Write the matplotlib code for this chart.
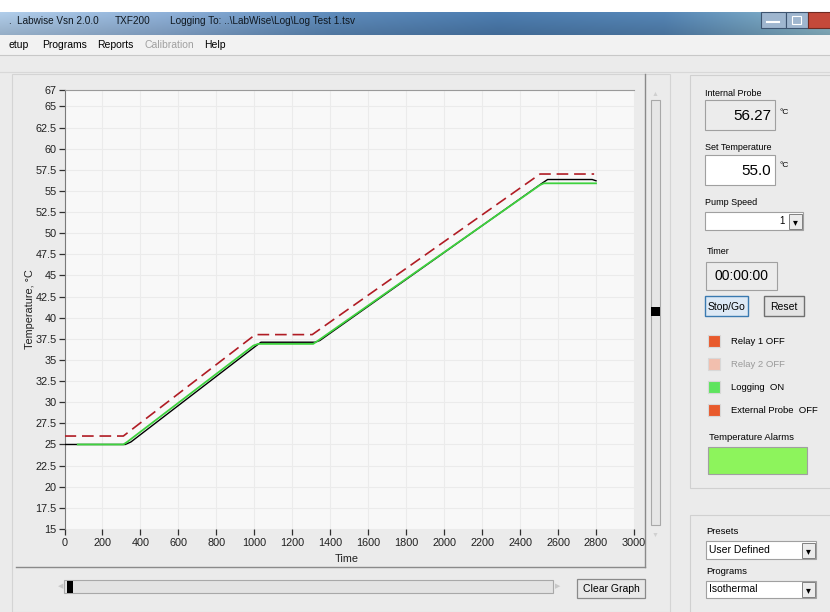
import matplotlib
matplotlib.use("Agg")
import matplotlib.pyplot as plt
from matplotlib.patches import Rectangle
import numpy as np

# ---------------- data ----------------
red_t = [0, 310, 1005, 1305, 2505, 2790]
red_v = [26, 26, 38, 38, 57, 57]

green_t = [70, 310, 330, 995, 1020, 1310, 1330, 2505, 2525, 2800]
green_v = [25, 25, 25.3, 36.7, 36.9, 36.9, 37.2, 55.7, 55.9, 55.9]

black_t = [0, 320, 350, 1005, 1035, 1320, 1345, 2515, 2545, 2780, 2800]
black_v = [25, 25, 25.3, 36.6, 37.1, 37.1, 37.3, 55.9, 56.35, 56.35, 56.2]

x_ticks = list(range(0, 3001, 200))
y_ticks = [15, 17.5, 20, 22.5, 25, 27.5, 30, 32.5, 35, 37.5, 40, 42.5, 45,
           47.5, 50, 52.5, 55, 57.5, 60, 62.5, 65, 67]
y_tick_labels = ["15", "17.5", "20", "22.5", "25", "27.5", "30", "32.5", "35",
                 "37.5", "40", "42.5", "45", "47.5", "50", "52.5", "55", "57.5",
                 "60", "62.5", "65", "67"]

title_parts = [("Labwise Vsn 2.0.0", 17), ("TXF200", 115),
               ("Logging To: ..\\LabWise\\Log\\Log Test 1.tsv", 170)]
menu_items = [("etup", 8, "#000000"), ("Programs", 42, "#000000"),
              ("Reports", 97, "#000000"), ("Calibration", 144, "#a0a0a0"),
              ("Help", 204, "#000000")]

# ---------------- figure ----------------
W, H = 830, 612
plt.rcParams['font.family'] = ['Liberation Sans Narrow', 'Liberation Sans', 'DejaVu Sans']
fig = plt.figure(figsize=(W / 100, H / 100), dpi=100)
fig.patch.set_facecolor("#ebebeb")


def R(x0, y0, x1, y1, fc="none", ec="none", lw=0.8, z=1):
    r = Rectangle((x0 / W, 1 - y1 / H), (x1 - x0) / W, (y1 - y0) / H,
                  transform=fig.transFigure, facecolor=fc, edgecolor=ec,
                  linewidth=lw, zorder=z)
    fig.add_artist(r)
    return r


def T(x, y, s, size=7, color="#000000", ha="left", va="center", zorder=6, **kw):
    return fig.text(x / W, 1 - y / H, s, fontsize=size, color=color,
                    ha=ha, va=va, zorder=zorder, **kw)


def L(xs, ys, color="#808080", lw=0.8, z=2):
    fig.add_artist(plt.Line2D([x / W for x in xs], [1 - y / H for y in ys],
                              transform=fig.transFigure, color=color, lw=lw,
                              zorder=z))


# top white strip
R(0, 0, W, 12, fc="#ffffff")
# title bar gradient
tb = fig.add_axes([0, 1 - 35 / H, 1, 23 / H])
tb.set_zorder(3)
grad_cols = np.array([[0.62, 0.72, 0.82], [0.50, 0.62, 0.76], [0.33, 0.49, 0.66],
                      [0.27, 0.44, 0.62], [0.30, 0.47, 0.64], [0.50, 0.66, 0.72]])
xs = np.linspace(0, 1, len(grad_cols))
xx = np.linspace(0, 1, 400)
row = np.stack([np.interp(xx, xs, grad_cols[:, k]) for k in range(3)], axis=-1)
vert = np.linspace(1.12, 0.95, 23)[:, None, None]
img = np.clip(row[None, :, :] * vert, 0, 1)
tb.imshow(img, aspect="auto", extent=[0, 1, 0, 1])
tb.set_axis_off()
for s, x in title_parts:
    T(x, 21, s, size=7.2, color="#101820")
T(8, 21, ".", size=7.2, color="#101820")
# window buttons
R(761, 12, 786, 28, fc="#9fb6cf", ec="#3d5470", lw=0.8, z=4)
R(786, 12, 808, 28, fc="#9fb6cf", ec="#3d5470", lw=0.8, z=4)
R(808, 12, 831, 28, fc="#c4493a", ec="#6e2a22", lw=0.8, z=4)
L([767, 779], [22, 22], color="#ffffff", lw=1.5, z=5)
R(792, 16, 801, 24, ec="#ffffff", lw=0.8, z=5)

# menu bar
R(0, 35, W, 55, fc="#f2f2f2")
L([0, W], [55, 55], color="#c8c8c8")
for s, x, c in menu_items:
    T(x, 45, s, size=7.5, color=c)
L([0, W], [72, 72], color="#d8d8d8")

# chart panel
R(12, 74, 670, 612, fc="#ebebeb", ec="#d4d4d4", lw=0.8)
L([645, 645], [74, 567], color="#8a8a8a", lw=1.0)
L([16, 645], [567, 567], color="#8a8a8a", lw=1.0)

# ---------------- chart axes ----------------
ax_l, ax_r, ax_t, ax_b = 64.5, 634, 89.5, 529
aw, ah = ax_r - ax_l, ax_b - ax_t
ax = fig.add_axes([ax_l / W, 1 - ax_b / H, aw / W, ah / H])
ax.set_zorder(10)
ax.set_facecolor("#f8f8f8")
ax.plot(black_t, black_v, color="#000000", lw=1.0, zorder=3)
ax.plot(green_t, green_v, color="#3ed23e", lw=1.3, zorder=4)
ax.plot(red_t, red_v, color="#b01c24", lw=1.2, dashes=(7, 3.5), zorder=5)
ax.set_xlim(0, 3000)
ax.set_ylim(15, 67)
ax.set_xticks(x_ticks)
ax.set_xticklabels([str(v) for v in x_ticks])
ax.set_yticks(y_ticks)
ax.set_yticklabels(y_tick_labels)
ax.grid(True, color="#ebebeb", lw=0.8)
ax.set_axisbelow(True)
for side in ("right", "bottom"):
    ax.spines[side].set_visible(False)
ax.spines["left"].set_color("#7a7a7a")
ax.spines["top"].set_color("#9a9a9a")
ax.tick_params(axis="both", colors="#303030", labelsize=7.8, length=4,
               width=0.9, pad=1.5, labelcolor="#202020")
ax.tick_params(axis="x", pad=2.5)
ax.set_xlabel("Time", fontsize=7.8, color="#202020")
ax.set_ylabel("Temperature, °C", fontsize=7.8, color="#202020")
ax.xaxis.set_label_coords((347 - ax_l) / aw, (ax_b - 559) / ah)
ax.yaxis.set_label_coords((30 - ax_l) / aw, 0.5)
ax.xaxis.label.set_va("center")
ax.yaxis.label.set_va("center")

# vertical scrollbar
R(651, 100, 660, 525, fc="#e6e6e6", ec="#a8a8a8", lw=0.8, z=2)
R(651, 307, 660, 316, fc="#000000", z=3)
T(655.5, 95, "▲", size=5, color="#d0d0d0", ha="center")
T(655.5, 535, "▼", size=5, color="#d0d0d0", ha="center")

# horizontal slider
R(64, 580, 553, 593, fc="#e3e3e3", ec="#a8a8a8", lw=0.8, z=2)
R(67, 581, 73, 593, fc="#000000", z=3)
T(61, 587, "◀", size=5, color="#c8c8c8", ha="center")
T(558, 587, "▶", size=5, color="#c8c8c8", ha="center")
R(577, 579, 645, 598, fc="#e8e8e8", ec="#8a8a8a", lw=0.9, z=2)
T(611, 588.5, "Clear Graph", size=7.5, ha="center")

# ---------------- right panel ----------------
R(690, 75, 832, 488, fc="#ebebeb", ec="#d0d0d0", lw=0.8)
T(705, 93, "Internal Probe", size=6.5)
R(705, 100, 775, 130, fc="#ececec", ec="#a0a0a0", lw=0.8, z=2)
T(771, 116, "56.27", size=11, ha="right")
T(779, 112, "°C", size=6)

T(705, 147, "Set Temperature", size=6.5)
R(705, 155, 775, 185, fc="#ffffff", ec="#a0a0a0", lw=0.8, z=2)
T(771, 171, "55.0", size=11, ha="right")
T(779, 166, "°C", size=6)

T(705, 203, "Pump Speed", size=6.5)
R(705, 212, 803, 230, fc="#ffffff", ec="#a0a0a0", lw=0.8, z=2)
T(785, 221, "1", size=7, ha="right")
R(789, 214, 802, 229, fc="#ececec", ec="#808080", lw=0.7, z=3)
T(795.5, 222, "▾", size=7, ha="center")

T(707, 251, "Timer", size=6.5)
R(706, 262, 777, 290, fc="#ececec", ec="#a0a0a0", lw=0.8, z=2)
T(741.5, 276.5, "00:00:00", size=10, ha="center")

R(705, 296, 748, 316, fc="#dde9f5", ec="#3a7ab0", lw=1.0, z=2)
T(726.5, 306.5, "Stop/Go", size=7.5, ha="center")
R(764, 296, 804, 316, fc="#e4e4e4", ec="#707070", lw=1.0, z=2)
T(784, 306.5, "Reset", size=7.5, ha="center")

indicators = [("Relay 1 OFF", "#e85a2c", "#000000", 341),
              ("Relay 2 OFF", "#f2bfae", "#9a9a9a", 364),
              ("Logging  ON", "#5ee45e", "#000000", 387),
              ("External Probe  OFF", "#e85a2c", "#000000", 410)]
for lab, fc, tc, yc in indicators:
    R(708, yc - 6, 720, yc + 6, fc=fc, ec="#d8d8d8", lw=0.8, z=2)
    T(731, yc + 0.5, lab, size=6.8, color=tc)

T(709, 438, "Temperature Alarms", size=6.8)
R(708, 447, 807, 474, fc="#8df45c", ec="#a0a0a0", lw=0.8, z=2)

# bottom-right panel
R(690, 515, 832, 614, fc="#ebebeb", ec="#d0d0d0", lw=0.8)
T(706, 531, "Presets", size=6.8)
R(706, 541, 816, 559, fc="#ffffff", ec="#a0a0a0", lw=0.8, z=2)
T(709, 550, "User Defined", size=7.5)
R(802, 543, 815, 558, fc="#ececec", ec="#808080", lw=0.7, z=3)
T(808.5, 551, "▾", size=7, ha="center")
T(706, 571, "Programs", size=6.8)
R(706, 581, 816, 598, fc="#ffffff", ec="#a0a0a0", lw=0.8, z=2)
T(709, 589.5, "Isothermal", size=7.5)
R(802, 582, 815, 597, fc="#ececec", ec="#808080", lw=0.7, z=3)
T(808.5, 590.5, "▾", size=7, ha="center")

fig.savefig("out.png", dpi=100, facecolor=fig.get_facecolor())
